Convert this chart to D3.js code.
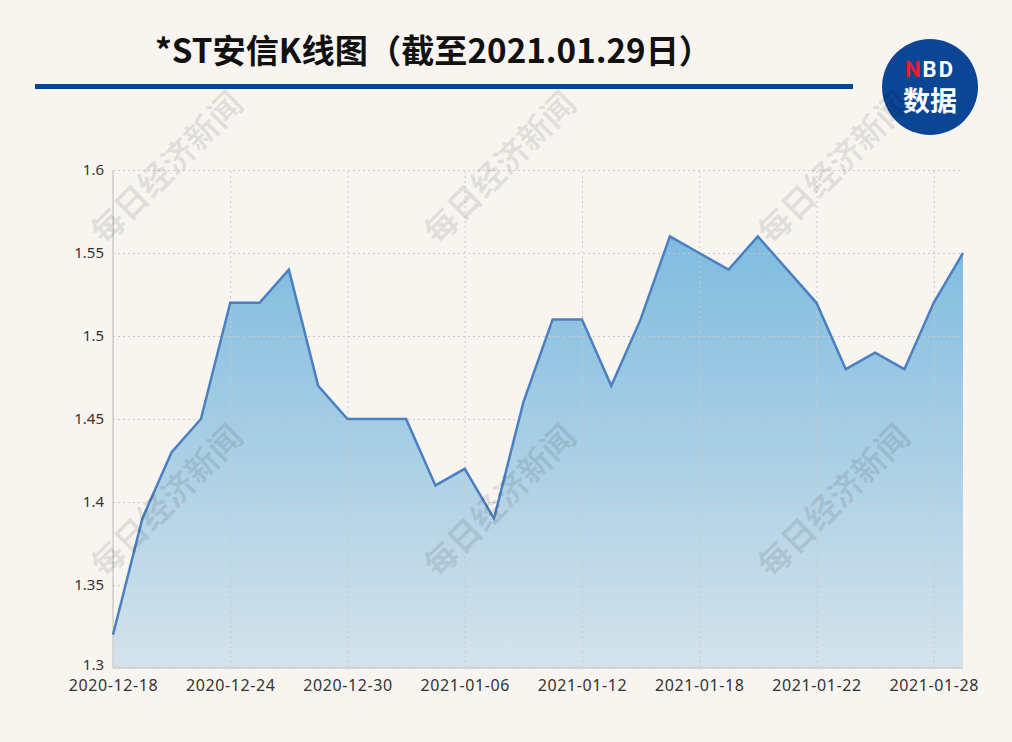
<!DOCTYPE html>
<html>
<head>
<meta charset="utf-8">
<script src="https://cdn.jsdelivr.net/npm/d3@7"></script>
<style>
  html, body { margin: 0; padding: 0; background: #f8f5f1; }
  svg { display: block; }
</style>
</head>
<body>
<div id="container"></div>
<script>
// trading days shown on the chart
var dates = ['2020-12-18', '2020-12-21', '2020-12-22', '2020-12-23', '2020-12-24', '2020-12-25',
    '2020-12-28', '2020-12-29', '2020-12-30', '2020-12-31', '2021-01-04', '2021-01-05',
    '2021-01-06', '2021-01-07', '2021-01-08', '2021-01-11', '2021-01-12', '2021-01-13',
    '2021-01-14', '2021-01-15', '2021-01-18', '2021-01-19', '2021-01-20', '2021-01-21',
    '2021-01-22', '2021-01-25', '2021-01-26', '2021-01-27', '2021-01-28', '2021-01-29'];

// closing prices
var prices = [1.32, 1.39, 1.43, 1.45, 1.52, 1.52, 1.54, 1.47, 1.45, 1.45, 1.45, 1.41,
    1.42, 1.39, 1.46, 1.51, 1.51, 1.47, 1.51, 1.56, 1.55, 1.54, 1.56, 1.54,
    1.52, 1.48, 1.49, 1.48, 1.52, 1.55];

var xTickLabels = ['2020-12-18', '2020-12-24', '2020-12-30', '2021-01-06', '2021-01-12',
    '2021-01-18', '2021-01-22', '2021-01-28'];
var yTicks = [1.3, 1.35, 1.4, 1.45, 1.5, 1.55, 1.6];

var titleText = '*ST安信K线图（截至2021.01.29日）';
var watermark = '每日经济新闻';

var W = 1012, H = 742;
var margin = { left: 113, right: 49, top: 170, bottom: 74 };
var width = W - margin.left - margin.right;
var height = H - margin.top - margin.bottom;

var svg = d3.select('#container')
    .append('svg')
    .attr('width', W)
    .attr('height', H);

svg.append('rect').attr('width', W).attr('height', H).attr('fill', '#f8f5f1');

// title + blue rule
svg.append('text')
    .attr('x', 155)
    .attr('y', 63)
    .attr('textLength', 557)
    .attr('lengthAdjust', 'spacingAndGlyphs')
    .style('font-family', '"Noto Sans CJK SC", sans-serif')
    .style('font-weight', 'bold')
    .style('font-size', '33px')
    .attr('fill', '#111')
    .text(titleText);

svg.append('rect')
    .attr('x', 35).attr('y', 84)
    .attr('width', 818).attr('height', 5)
    .attr('fill', '#00469a');

// NBD logo
var logo = svg.append('g').attr('transform', 'translate(930,87)');
logo.append('circle').attr('r', 48).attr('fill', '#0b4596');
var nbd = logo.append('text')
    .attr('y', -10)
    .attr('text-anchor', 'middle')
    .style('font-family', 'Roboto, "Noto Sans", sans-serif')
    .style('font-weight', 'bold')
    .style('font-size', '22px')
    .style('letter-spacing', '2px');
nbd.append('tspan').attr('fill', '#e8202a').text('N');
nbd.append('tspan').attr('fill', '#fff').text('BD');
logo.append('text')
    .attr('y', 24)
    .attr('text-anchor', 'middle')
    .style('font-family', '"Noto Sans CJK SC", sans-serif')
    .style('font-weight', 'bold')
    .style('font-size', '27px')
    .attr('fill', '#fff')
    .text('数据');

var g = svg.append('g')
    .attr('transform', 'translate(' + margin.left + ',' + margin.top + ')');

var x = d3.scalePoint()
    .domain(dates)
    .range([0, width]);

var y = d3.scaleLinear()
    .domain([1.3, 1.6])
    .range([height, 0]);

// gradient for area
var defs = svg.append('defs');
var grad = defs.append('linearGradient')
    .attr('id', 'areaGrad')
    .attr('gradientUnits', 'userSpaceOnUse')
    .attr('x1', 0).attr('x2', 0)
    .attr('y1', y(d3.max(prices))).attr('y2', height);
grad.append('stop').attr('offset', '0%').attr('stop-color', '#7fbbdf');
grad.append('stop').attr('offset', '100%').attr('stop-color', '#d4e3eb');

var area = d3.area()
    .x(function (d, i) { return x(dates[i]); })
    .y0(height)
    .y1(function (d) { return y(d); });

g.append('path')
    .datum(prices)
    .attr('fill', 'url(#areaGrad)')
    .attr('d', area);

// grid
var yGrid = g.append('g')
    .call(d3.axisLeft(y).tickValues(yTicks).tickSize(-width).tickFormat(''));
yGrid.select('.domain').remove();
yGrid.selectAll('line')
    .attr('stroke', '#c9c9c9')
    .attr('stroke-dasharray', '2,3');

var xGrid = g.append('g')
    .attr('transform', 'translate(0,' + height + ')')
    .call(d3.axisBottom(x).tickValues(xTickLabels).tickSize(-height).tickFormat(''));
xGrid.select('.domain').remove();
xGrid.selectAll('line')
    .attr('stroke', '#c9c9c9')
    .attr('stroke-dasharray', '2,3');

// axis lines
g.append('line')
    .attr('x1', 0).attr('x2', 0).attr('y1', 0).attr('y2', height)
    .attr('stroke', '#cfcfcf').attr('stroke-width', 1.5);
g.append('line')
    .attr('x1', 0).attr('x2', width).attr('y1', height).attr('y2', height)
    .attr('stroke', '#cfcfcf').attr('stroke-width', 1.5);

// tick labels
var yAxis = g.append('g')
    .call(d3.axisLeft(y).tickValues(yTicks).tickSize(0).tickPadding(9)
        .tickFormat(function (d) { return String(+d.toFixed(2)); }));
yAxis.select('.domain').remove();
yAxis.selectAll('text')
    .style('font-family', '"Noto Sans", sans-serif')
    .style('font-size', '15px')
    .attr('fill', '#333');
yAxis.selectAll('.tick').filter(function (d) { return d === 1.3; })
    .select('text').attr('dy', '0.1em');

var xAxis = g.append('g')
    .attr('transform', 'translate(0,' + height + ')')
    .call(d3.axisBottom(x).tickValues(xTickLabels).tickSize(0).tickPadding(12));
xAxis.select('.domain').remove();
xAxis.selectAll('text')
    .style('font-family', '"Noto Sans", sans-serif')
    .style('font-size', '16px')
    .style('letter-spacing', '0.6px')
    .attr('fill', '#333');

// price line
var line = d3.line()
    .x(function (d, i) { return x(dates[i]); })
    .y(function (d) { return y(d); });

g.append('path')
    .datum(prices)
    .attr('fill', 'none')
    .attr('stroke', '#4a80c2')
    .attr('stroke-width', 2.5)
    .attr('stroke-linejoin', 'miter')
    .attr('d', line);

// watermarks
var wmCols = [167, 500, 834];
var wmRows = [168, 501];
wmRows.forEach(function (wy) {
    wmCols.forEach(function (wx) {
        svg.append('text')
            .attr('transform', 'translate(' + wx + ',' + wy + ') rotate(-45)')
            .attr('text-anchor', 'middle')
            .attr('dy', '0.35em')
            .style('font-family', '"Noto Sans CJK SC", serif')
            .style('font-weight', 'bold')
            .style('font-size', '33px')
            .attr('fill', 'rgba(0,0,0,0.09)')
            .text(watermark);
    });
});
</script>
</body>
</html>
